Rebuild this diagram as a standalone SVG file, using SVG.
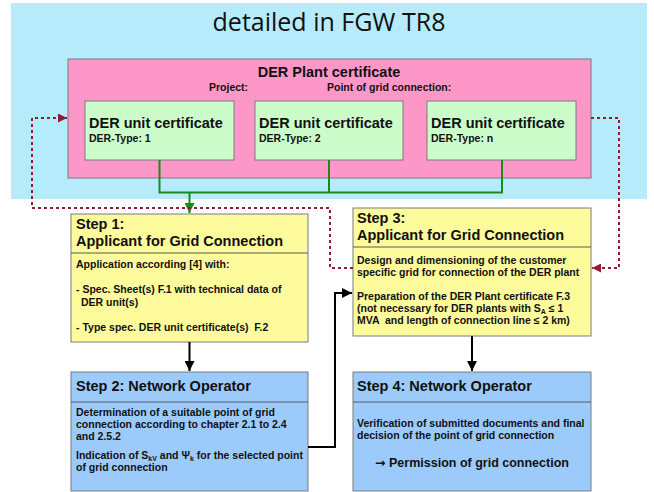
<svg xmlns="http://www.w3.org/2000/svg" width="654" height="492" viewBox="0 0 654 492">
<defs>
<style>
text{font-family:"Liberation Sans",Arial,sans-serif;font-weight:bold;fill:#111}
.title{font-family:"Open Sans","DejaVu Sans",sans-serif;font-weight:normal;font-size:25px;fill:#111}
.h14{font-size:14.5px}
.s10{font-size:10.5px}
.b{stroke:#7a7a7a;stroke-width:1}
.sep{stroke:#5a5a5a;stroke-width:1}
.blk{fill:none;stroke:#000;stroke-width:2}
.grn{fill:none;stroke:#1a8a1a;stroke-width:2}
.red{fill:none;stroke:#951b35;stroke-width:2;stroke-dasharray:3 3}
</style>
<marker id="ab" viewBox="0 0 10 10" refX="10" refY="5" markerWidth="5" markerHeight="5" orient="auto" markerUnits="strokeWidth"><path d="M0,0L10,5L0,10z" fill="#000"/></marker>
<marker id="ag" viewBox="0 0 10 10" refX="10" refY="5" markerWidth="5" markerHeight="5" orient="auto" markerUnits="strokeWidth"><path d="M0,0L10,5L0,10z" fill="#1a8a1a"/></marker>
<marker id="ar" viewBox="0 0 10 10" refX="10" refY="5" markerWidth="6" markerHeight="4.5" orient="auto" markerUnits="strokeWidth"><path d="M0,0L10,5L0,10z" fill="#951b35"/></marker>
</defs>
<rect width="654" height="492" fill="#fff"/>
<g id="bg">
<rect x="11" y="3" width="636" height="196" fill="#b5ebfb"/>
<text class="title" x="329" y="31" text-anchor="middle">detailed in FGW TR8</text>
</g>
<g id="plant">
<rect class="b" x="68" y="59" width="523" height="119" fill="#fc97c8"/>
<text class="h14" x="329" y="77" text-anchor="middle">DER Plant certificate</text>
<text class="s10" x="209" y="91">Project:</text>
<text class="s10" x="327" y="91">Point of grid connection:</text>
</g>
<g id="unit1">
<rect class="b" x="85" y="101" width="149" height="59" fill="#cdfccb"/>
<text class="h14" x="89" y="128">DER unit certificate</text>
<text class="s10" x="89" y="142">DER-Type: 1</text>
</g>
<g id="unit2">
<rect class="b" x="255" y="101" width="148" height="59" fill="#cdfccb"/>
<text class="h14" x="259" y="128">DER unit certificate</text>
<text class="s10" x="259" y="142">DER-Type: 2</text>
</g>
<g id="unit3">
<rect class="b" x="427" y="101" width="149" height="59" fill="#cdfccb"/>
<text class="h14" x="431" y="128">DER unit certificate</text>
<text class="s10" x="431" y="142">DER-Type: n</text>
</g>
<g id="step1">
<rect class="b" x="71" y="214" width="237" height="128" fill="#fdfb9b"/>
<line class="sep" x1="71" y1="253" x2="308" y2="253"/>
<text class="h14" x="76" y="229">Step 1:</text>
<text class="h14" x="76" y="246">Applicant for Grid Connection</text>
<text class="s10" x="76" y="268">Application according [4] with:</text>
<text class="s10" x="76" y="293">- Spec. Sheet(s) F.1 with technical data of</text>
<text class="s10" x="81" y="306">DER unit(s)</text>
<text class="s10" x="76" y="331" xml:space="preserve">- Type spec. DER unit certificate(s)  F.2</text>
</g>
<g id="step3">
<rect class="b" x="353" y="208" width="238" height="128" fill="#fdfb9b"/>
<line class="sep" x1="353" y1="247" x2="591" y2="247"/>
<text class="h14" x="357" y="223">Step 3:</text>
<text class="h14" x="357" y="240">Applicant for Grid Connection</text>
<text class="s10" x="357" y="264">Design and dimensioning of the customer</text>
<text class="s10" x="357" y="276">specific grid for connection of the DER plant</text>
<text class="s10" x="357" y="300">Preparation of the DER Plant certificate F.3</text>
<text class="s10" x="357" y="312">(not necessary for DER plants with S<tspan font-size="7" dy="2">A</tspan><tspan dy="-2"> ≤ 1</tspan></text>
<text class="s10" x="357" y="324" xml:space="preserve">MVA  and length of connection line ≤ 2 km)</text>
</g>
<g id="step2">
<rect class="b" x="71" y="372" width="237" height="119" fill="#9ccbfb"/>
<line class="sep" x1="71" y1="402" x2="308" y2="402"/>
<text class="h14" x="76" y="391">Step 2: Network Operator</text>
<text class="s10" x="76" y="416">Determination of a suitable point of grid</text>
<text class="s10" x="76" y="428">connection according to chapter 2.1 to 2.4</text>
<text class="s10" x="76" y="440">and 2.5.2</text>
<text class="s10" x="76" y="459">Indication of S<tspan font-size="7" dy="2">kV</tspan><tspan dy="-2"> and Ψ</tspan><tspan font-size="7" dy="2">k</tspan><tspan dy="-2"> for the selected point</tspan></text>
<text class="s10" x="76" y="471">of grid connection</text>
</g>
<g id="step4">
<rect class="b" x="353" y="372" width="238" height="119" fill="#9ccbfb"/>
<line class="sep" x1="353" y1="402" x2="591" y2="402"/>
<text class="h14" x="357" y="391">Step 4: Network Operator</text>
<text class="s10" x="357" y="427">Verification of submitted documents and final</text>
<text class="s10" x="357" y="439">decision of the point of grid connection</text>
<text x="472" y="467" font-size="12.5" text-anchor="middle"><tspan font-family="DejaVu Sans, sans-serif">→</tspan> Permission of grid connection</text>
</g>
<g id="connectors">
<path class="grn" d="M159.5,160V192.5H502V160M329,160V192.5"/>
<path class="grn" d="M189.5,192.5V213" marker-end="url(#ag)"/>
<path class="red" d="M353,268H330V208H32V118H67" marker-end="url(#ar)"/>
<path class="red" d="M591,118H619V268H592" marker-end="url(#ar)"/>
<path class="blk" d="M189.5,342V371" marker-end="url(#ab)"/>
<path class="blk" d="M472,336V371" marker-end="url(#ab)"/>
<path class="blk" d="M308,447H335V293H352" marker-end="url(#ab)"/>
</g>
</svg>
